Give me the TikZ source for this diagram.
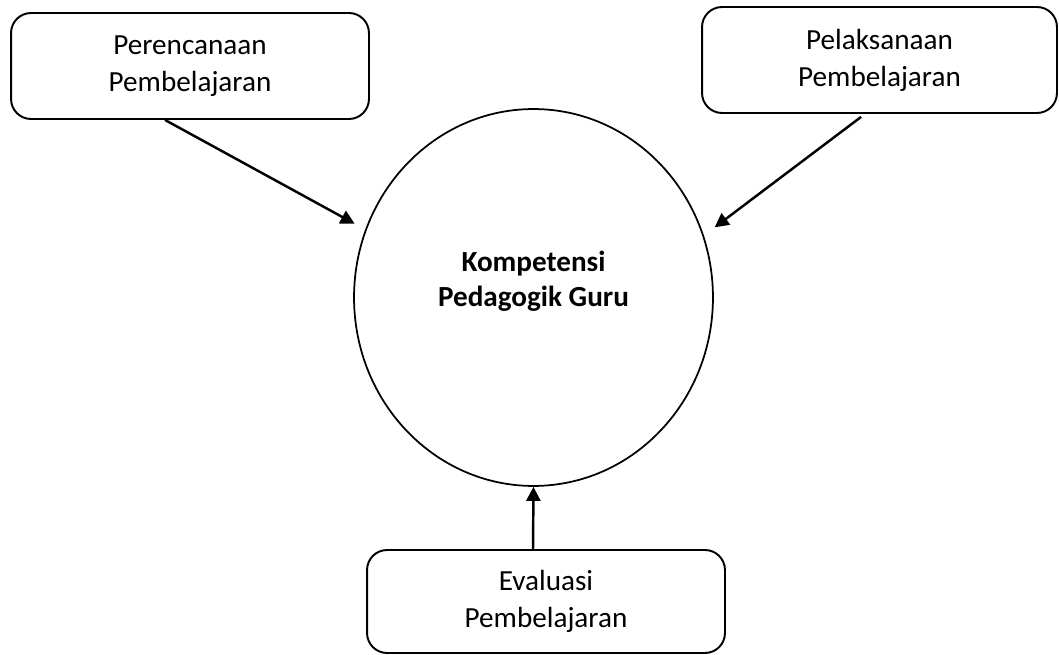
\documentclass[tikz,border=0pt]{standalone}
\usepackage{fontspec}
\setmainfont{Carlito}
\usepackage{tikz}
\usetikzlibrary{shapes.geometric,arrows.meta}

\begin{document}
\begin{tikzpicture}[
    x=0.02cm, y=-0.02cm,
    every node/.style={align=center},
    box/.style={rectangle, rounded corners=0.4cm, minimum width=7.16cm, minimum height=2.12cm, draw=black, line width=1.1pt, font=\fontsize{16.6}{21}\selectfont},
    center/.style={ellipse, minimum width=7.18cm, minimum height=7.54cm, draw=black, line width=1pt},
    title/.style={font=\fontsize{16.6}{19.7}\selectfont\bfseries},
    arrow/.style={line width=1.4pt, -{Triangle[length=8pt,width=8pt]}}
]
\useasboundingbox (0,0) rectangle (1059,655);

% Nodes
\node[box] (perencanaan) at (190,66) {Perencanaan\\Pembelajaran};
\node[box, minimum width=7.1cm] (pelaksanaan) at (879.5,60) {Pelaksanaan\\Pembelajaran};
\node[box, minimum height=2.06cm] (evaluasi) at (546,601.5) {Evaluasi\\Pembelajaran};
\node[center] (kompetensi) at (533.5,297.5) {};
\node[title] (kompetensi_text) at ([yshift=0.32cm]kompetensi.center) {Kompetensi\\Pedagogik Guru};

% Arrows
\draw[arrow, shorten >=6.8pt] ([xshift=-0.5cm]perencanaan.south) -- (kompetensi.158.8);
\draw[arrow, shorten <=2.8pt, shorten >=7.7pt] ([xshift=-0.29cm]pelaksanaan.south) -- (kompetensi.20);
\draw[arrow] ([xshift=-0.26cm]evaluasi.north) -- (kompetensi.south);

\end{tikzpicture}
\end{document}
